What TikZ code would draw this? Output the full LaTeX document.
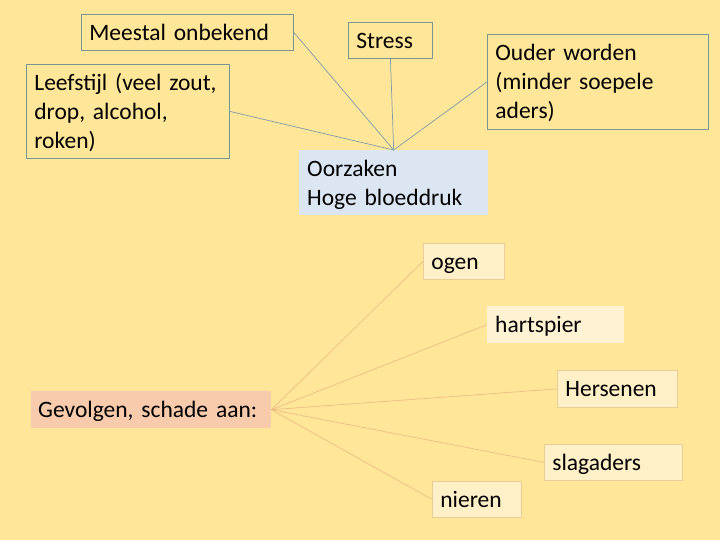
\documentclass[tikz,border=0pt]{standalone}
\usepackage{fontspec}
\setmainfont{Carlito}
\definecolor{bg}{RGB}{255,230,153}
\definecolor{topline}{RGB}{125,155,170}
\definecolor{topborder}{RGB}{120,150,150}
\definecolor{botline}{RGB}{236,190,130}
\definecolor{botborder}{RGB}{232,205,150}
\definecolor{botfill}{RGB}{255,240,200}
\definecolor{bluefill}{RGB}{220,230,242}
\definecolor{salmon}{RGB}{248,203,173}
\begin{document}
\begin{tikzpicture}[x=1pt,y=-1pt,
  cbox/.style={rectangle, anchor=north west, inner xsep=8pt, inner ysep=0pt, align=left,
    font=\fontsize{23.5}{29}\selectfont, text=black,
    execute at begin node={\rule{0pt}{23pt}},
    execute at end node={\rule[-7pt]{0pt}{7pt}}},
  topbox/.style={cbox, draw=topborder, line width=0.8pt},
  botbox/.style={cbox, draw=botborder, fill=botfill, line width=0.8pt},
  tline/.style={draw=topline, line width=0.7pt},
  bline/.style={draw=botline, line width=0.7pt}]
\fill[bg] (0,0) rectangle (720,540);
\useasboundingbox (0,0) rectangle (720,540);
\node[topbox, text width=196pt, minimum height=36pt] (meestal) at (81,14) {Meestal onbekend};
\node[topbox, text width=68pt, minimum height=36pt] (stress) at (348,22) {Stress};
\node[topbox, text width=205pt, minimum height=95pt] (ouder) at (487,34) {Ouder worden\\(minder soepele\\aders)};
\node[topbox, text width=187pt, minimum height=94pt] (leef) at (26,64) {Leefstijl (veel zout,\\drop, alcohol,\\roken)};
\node[cbox, fill=bluefill, text width=173pt, minimum height=65pt] (oorz) at (299,150) {Oorzaken\\Hoge bloeddruk};
\node[cbox, fill=salmon, inner xsep=7pt, text width=226pt, minimum height=37pt] (gevolg) at (31,391) {Gevolgen, schade aan:};
\node[botbox, text width=65pt, minimum height=36pt] (ogen) at (423,243) {ogen};
\node[cbox, fill=botfill!80!white, text width=121pt, minimum height=37pt] (hart) at (487,306) {hartspier};
\node[botbox, text width=104pt, minimum height=37pt] (hers) at (557,370) {Hersenen};
\node[botbox, text width=122pt, minimum height=36pt] (slag) at (544,444) {slagaders};
\node[botbox, text width=73pt, minimum height=36pt] (nier) at (432,481) {nieren};
\draw[tline] (meestal.east) -- (oorz.north);
\draw[tline] (stress.south) -- (oorz.north);
\draw[tline] (ouder.west) -- (oorz.north);
\draw[tline] (leef.east) -- (oorz.north);
\draw[bline] (gevolg.east) -- (ogen.west);
\draw[bline] (gevolg.east) -- (hart.west);
\draw[bline] (gevolg.east) -- (hers.west);
\draw[bline] (gevolg.east) -- (slag.west);
\draw[bline] (gevolg.east) -- (nier.west);
\end{tikzpicture}
\end{document}
